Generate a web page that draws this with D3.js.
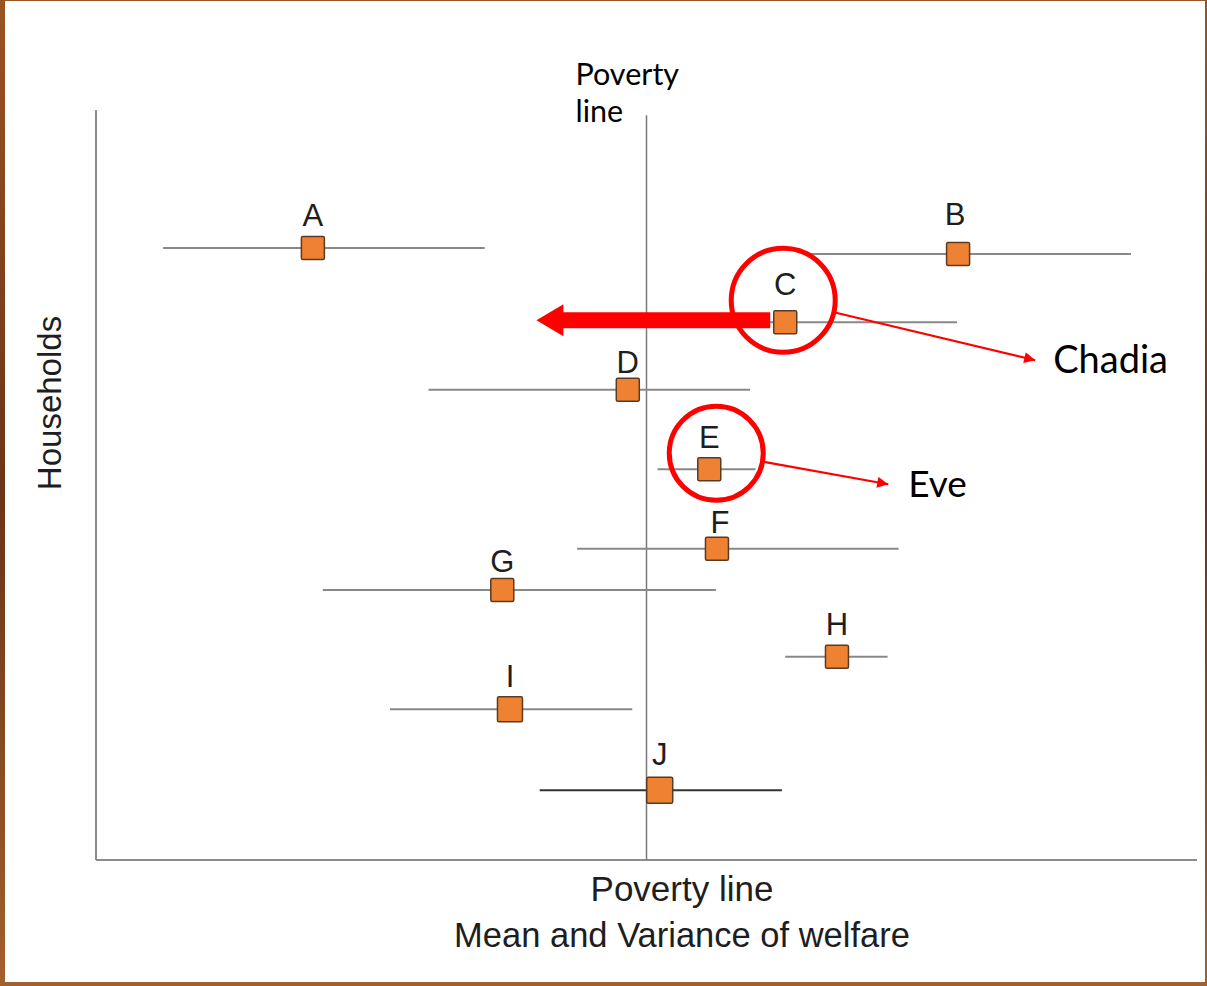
<!DOCTYPE html>
<html>
<head>
<meta charset="utf-8">
<script src="https://cdn.jsdelivr.net/npm/d3@7"></script>
<style>
  body { margin: 0; background: #7a401c; }
  svg { display: block; }
</style>
</head>
<body>
<script>
const WIDTH  = 1207;
const HEIGHT = 986;

// Households and their welfare (mean, low end, high end of the range)
const households  = ["A", "B", "C", "D", "E", "F", "G", "H", "I", "J"];
const welfareMean = [19.7, 78.3, 62.6, 48.3, 55.7, 56.4, 36.9, 67.3, 37.6, 51.2];
const welfareLow  = [6.1, 64.7, 47.1, 30.2, 51.0, 43.7, 20.6, 62.6, 26.7, 40.3];
const welfareHigh = [35.3, 94.0, 78.2, 59.4, 59.9, 72.9, 56.3, 71.9, 48.7, 62.3];
// vertical position of each household in the list
const householdPos = [81.6, 80.8, 71.7, 62.7, 52.1, 41.5, 36.0, 27.1, 20.1, 9.3];

const povertyLine = 50;

// Highlighted households
const highlighted = ["C", "E"];
const highlightNames = ["Chadia", "Eve"];
// Chadia drops below the poverty line
const dropTo = 40;

const margin = { left: 96, right: 10, top: 110, bottom: 126 };

const svg = d3.select("body").append("svg")
  .attr("width", WIDTH)
  .attr("height", HEIGHT);

// textured frame + white slide
const grad = svg.append("defs").append("linearGradient").attr("id", "wood")
  .attr("x1", 0).attr("y1", 0).attr("x2", 0).attr("y2", 1);
grad.append("stop").attr("offset", "0%").attr("stop-color", "#9a5424");
grad.append("stop").attr("offset", "50%").attr("stop-color", "#6a3416");
grad.append("stop").attr("offset", "100%").attr("stop-color", "#a2602c");
svg.append("rect").attr("width", WIDTH).attr("height", HEIGHT).attr("fill", "url(#wood)");
svg.append("rect").attr("x", 5).attr("y", 1).attr("width", 1200).attr("height", 981).attr("fill", "#fff");

const xScale = d3.scaleLinear().domain([0, 100]).range([margin.left, WIDTH - margin.right]);
const yScale = d3.scaleLinear().domain([0, 100]).range([HEIGHT - margin.bottom, margin.top]);

const data = households.map((h, i) => ({
  name: h, mean: welfareMean[i], lo: welfareLow[i], hi: welfareHigh[i], pos: householdPos[i]
}));

// Axes (plain lines, no ticks)
const axisColor = "#8c8c8c";
svg.append("line")
  .attr("x1", xScale(0)).attr("x2", xScale(0))
  .attr("y1", yScale(100)).attr("y2", yScale(0))
  .attr("stroke", axisColor).attr("stroke-width", 2);
svg.append("line")
  .attr("x1", xScale(0)).attr("x2", xScale(100))
  .attr("y1", yScale(0)).attr("y2", yScale(0))
  .attr("stroke", axisColor).attr("stroke-width", 2);

// Poverty line
svg.append("line")
  .attr("x1", xScale(povertyLine)).attr("x2", xScale(povertyLine))
  .attr("y1", yScale(99.3)).attr("y2", yScale(0))
  .attr("stroke", "#7a7a7a").attr("stroke-width", 1.5);

// Range lines
svg.selectAll(".range")
  .data(data)
  .enter().append("line")
    .attr("class", "range")
    .attr("x1", d => xScale(d.lo))
    .attr("x2", d => xScale(d.hi))
    .attr("y1", d => yScale(d.pos))
    .attr("y2", d => yScale(d.pos))
    .attr("stroke", d => d.name == "J" ? "#333" : "#888")
    .attr("stroke-width", 2);

// Chadia's arrow, drawn over her range line
const cData = data.find(d => d.name == "C");
const arrowHead = 27, headHalf = 16, shaft = 8;
const ax = xScale(dropTo), ay = yScale(cData.pos) - 2;
const sx = xScale(cData.mean) - 15;
svg.append("path")
  .attr("d", `M${ax},${ay} L${ax + arrowHead},${ay - headHalf} L${ax + arrowHead},${ay - shaft}
              L${sx},${ay - shaft} L${sx},${ay + shaft} L${ax + arrowHead},${ay + shaft}
              L${ax + arrowHead},${ay + headHalf} Z`)
  .attr("fill", "#ff0000");

// Markers
const size = d => d.name == "J" ? 26 : (d.name == "I" ? 25 : 23);
svg.selectAll(".marker")
  .data(data)
  .enter().append("rect")
    .attr("class", "marker")
    .attr("x", d => xScale(d.mean) - size(d) / 2)
    .attr("y", d => yScale(d.pos) - size(d) / 2)
    .attr("width", size)
    .attr("height", size)
    .attr("rx", 1.5)
    .attr("fill", "#ef8232")
    .attr("stroke", "#5b3a22")
    .attr("stroke-width", 1.5);

// Letters (baseline distance above marker, and small x nudges)
const letterLift = { A: 22, B: 29, C: 27, D: 17, E: 21, F: 16, G: 18, H: 22, I: 22, J: 25 };
const letterNudge = { B: -3, F: 3 };
svg.selectAll(".letter")
  .data(data)
  .enter().append("text")
    .attr("class", "letter")
    .attr("x", d => xScale(d.mean) + (letterNudge[d.name] || 0))
    .attr("y", d => yScale(d.pos) - letterLift[d.name])
    .attr("text-anchor", "middle")
    .style("font-family", "'Liberation Sans', Arial, sans-serif")
    .style("font-size", "31px")
    .style("fill", "#1e1e1e")
    .text(d => d.name);

// Red circles + pointers + names
svg.select("defs").append("marker")
  .attr("id", "redhead")
  .attr("viewBox", "0 0 10 10")
  .attr("refX", 10).attr("refY", 5)
  .attr("markerWidth", 6).attr("markerHeight", 5)
  .attr("markerUnits", "strokeWidth")
  .attr("orient", "auto")
  .append("path").attr("d", "M0,0 L10,5 L0,10 Z").attr("fill", "#ff0000");

const notes = [
  { r: 52, dx: -2, dy: -22, tx: 252, ty: 60, gap: 18, fs: 38 },
  { r: 47, dx: 7,  dy: -16, tx: 172, ty: 31, gap: 20, fs: 37 }
];
highlighted.forEach((h, i) => {
  const d = data.find(e => e.name == h);
  const n = notes[i];
  const cx = xScale(d.mean) + n.dx, cy = yScale(d.pos) + n.dy;
  svg.append("circle")
    .attr("cx", cx).attr("cy", cy).attr("r", n.r)
    .attr("fill", "none").attr("stroke", "#ff0000").attr("stroke-width", 5);
  const ex = cx + n.tx, ey = cy + n.ty;
  const ang = Math.atan2(n.ty, n.tx);
  svg.append("line")
    .attr("x1", cx + n.r * Math.cos(ang)).attr("y1", cy + n.r * Math.sin(ang))
    .attr("x2", ex).attr("y2", ey)
    .attr("stroke", "#ff0000").attr("stroke-width", 2.2)
    .attr("marker-end", "url(#redhead)");
  svg.append("text")
    .attr("x", ex + n.gap).attr("y", ey + 13)
    .style("font-family", "Lato, 'Open Sans', sans-serif")
    .style("font-size", n.fs + "px")
    .style("fill", "#000")
    .text(highlightNames[i]);
});

// Poverty line label at top
const topLabel = svg.append("text")
  .attr("x", xScale(povertyLine) - 71)
  .attr("y", 85)
  .style("font-family", "Lato, 'Open Sans', sans-serif")
  .style("font-size", "30.5px")
  .style("fill", "#000");
topLabel.append("tspan").text("Poverty");
topLabel.append("tspan").attr("x", xScale(povertyLine) - 71).attr("dy", 37).text("line");

// Axis titles
svg.append("text")
  .attr("x", 682).attr("y", 901)
  .attr("text-anchor", "middle")
  .style("font-family", "'Liberation Sans', Arial, sans-serif")
  .style("font-size", "35px").style("fill", "#1e1e1e")
  .text("Poverty line");
svg.append("text")
  .attr("x", 682).attr("y", 947)
  .attr("text-anchor", "middle")
  .style("font-family", "'Liberation Sans', Arial, sans-serif")
  .style("font-size", "34.5px").style("fill", "#1e1e1e")
  .text("Mean and Variance of welfare");
svg.append("text")
  .attr("transform", "translate(61,403) rotate(-90)")
  .attr("text-anchor", "middle")
  .style("font-family", "'Liberation Sans', Arial, sans-serif")
  .style("font-size", "33px").style("fill", "#1e1e1e")
  .text("Households");
</script>
</body>
</html>
